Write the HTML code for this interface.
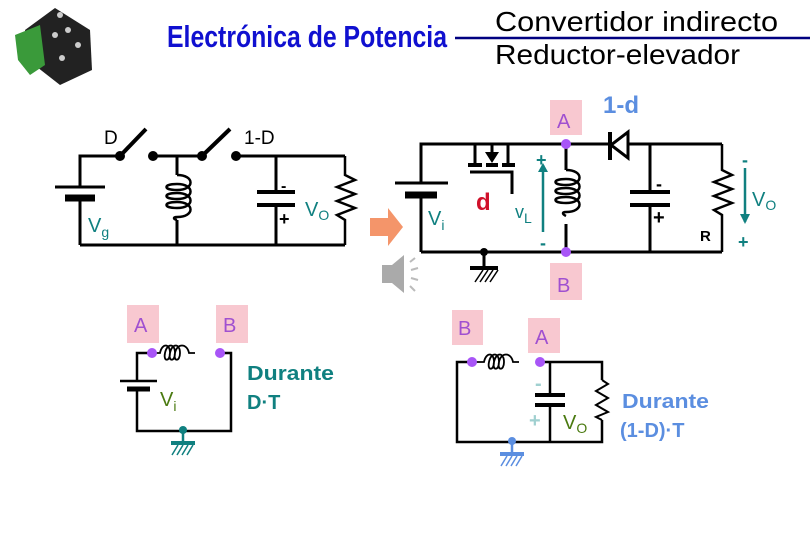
<!DOCTYPE html>
<html><head><meta charset="utf-8"><style>
html,body{margin:0;padding:0;background:#fff;}
svg{display:block;font-family:"Liberation Sans",sans-serif;}
</style></head><body>
<svg width="810" height="540" viewBox="0 0 810 540" xmlns="http://www.w3.org/2000/svg">
<!-- chip image -->
<g>
<polygon points="25,30 55,8 90,30 92,70 60,85 28,60" fill="#222"/>
<polygon points="15,35 40,25 45,65 30,75 18,60" fill="#3a9a3a"/>
<circle cx="60" cy="15" r="3" fill="#ccc"/><circle cx="68" cy="30" r="3" fill="#ccc"/><circle cx="55" cy="35" r="3" fill="#ccc"/><circle cx="78" cy="45" r="3" fill="#ccc"/><circle cx="62" cy="58" r="3" fill="#ccc"/>
</g>
<!-- titles -->
<text x="167" y="47" font-size="31" font-weight="bold" fill="#1010d0" textLength="280" lengthAdjust="spacingAndGlyphs">Electrónica de Potencia</text>
<text x="495" y="31" font-size="28" fill="#000" textLength="283" lengthAdjust="spacingAndGlyphs">Convertidor indirecto</text>
<line x1="455" y1="38" x2="810" y2="38" stroke="#000080" stroke-width="2.5"/>
<text x="495" y="64" font-size="28" fill="#000" textLength="245" lengthAdjust="spacingAndGlyphs">Reductor-elevador</text>

<g stroke="#000" stroke-width="3" fill="none">
<!-- left circuit -->
<polyline points="80,187 80,156 120,156"/>
<line x1="80" y1="198" x2="80" y2="245"/>
<line x1="80" y1="245" x2="345" y2="245"/>
<line x1="55" y1="187" x2="105" y2="187"/>
<line x1="65" y1="198" x2="95" y2="198" stroke-width="7"/>
<line x1="120" y1="156" x2="146" y2="129" stroke-width="4"/>
<line x1="153" y1="156" x2="202" y2="156"/>
<line x1="202" y1="156" x2="230" y2="129" stroke-width="4"/>
<line x1="236" y1="156" x2="345" y2="156"/>
<line x1="177" y1="156" x2="177" y2="175"/>
<line x1="177" y1="220" x2="177" y2="245"/>
<path d="M177,175 c18,0 18,15 0,15 c-14,0 -14,-6 0,-6 c18,0 18,15 0,15 c-14,0 -14,-6 0,-6 c18,0 18,15 0,15 c-14,0 -14,-6 0,-6 c18,0 18,15 0,15 c-4,0 -4,2 0,3" stroke-width="2.5"/>
<line x1="276" y1="156" x2="276" y2="192"/>
<line x1="276" y1="205" x2="276" y2="245"/>
<line x1="257" y1="192" x2="295" y2="192" stroke-width="4"/>
<line x1="257" y1="205" x2="295" y2="205" stroke-width="4"/>
<polyline points="345,156 345,175 355,180 337,187 355,194 337,201 355,208 337,215 345,220 345,245" stroke-width="2.5"/>
</g>
<g fill="#000"><circle cx="120" cy="156" r="5"/><circle cx="153" cy="156" r="5"/><circle cx="202" cy="156" r="5"/><circle cx="236" cy="156" r="5"/></g>
<text x="104" y="144" font-size="19" fill="#000">D</text>
<text x="244" y="144" font-size="19" fill="#000">1-D</text>
<text x="281" y="191" font-size="16" font-weight="bold">-</text>
<text x="279" y="225" font-size="18" font-weight="bold">+</text>
<text x="305" y="216" font-size="20" fill="#108080">V<tspan font-size="14" dy="4">O</tspan></text>
<text x="88" y="232" font-size="20" fill="#108080">V<tspan font-size="14" dy="5">g</tspan></text>

<!-- arrow -->
<polygon points="370,218 388,218 388,208 403,227 388,246 388,236 370,236" fill="#f4956a"/>
<!-- speaker -->
<polygon points="382,265 392,265 404,255 404,293 392,283 382,283" fill="#aaa"/>
<g stroke="#bbb" stroke-width="2"><line x1="410" y1="262" x2="415" y2="258"/><line x1="411" y1="270" x2="418" y2="268"/><line x1="411" y1="278" x2="418" y2="280"/><line x1="410" y1="286" x2="415" y2="291"/></g>

<!-- right circuit -->
<rect x="550" y="100" width="32" height="35" fill="#f8c8d0"/>
<rect x="550" y="263" width="32" height="37" fill="#f8c8d0"/>
<text x="557" y="128" font-size="20" fill="#a050d0">A</text>
<text x="557" y="292" font-size="20" fill="#a050d0">B</text>
<text x="603" y="113" font-size="24" font-weight="bold" fill="#5b8ee0">1-d</text>
<g stroke="#000" stroke-width="3" fill="none">
<polyline points="421,183 421,144 475,144"/>
<line x1="421" y1="195" x2="421" y2="252"/>
<line x1="421" y1="252" x2="722" y2="252"/>
<line x1="395" y1="183" x2="448" y2="183"/>
<line x1="405" y1="195" x2="437" y2="195" stroke-width="7"/>
<line x1="475" y1="144" x2="722" y2="144"/>
<line x1="475" y1="144" x2="475" y2="165"/>
<line x1="508" y1="144" x2="508" y2="165"/>
<line x1="468" y1="165" x2="482" y2="165" stroke-width="4"/>
<line x1="486" y1="165" x2="498" y2="165" stroke-width="4"/>
<line x1="502" y1="165" x2="515" y2="165" stroke-width="4"/>
<line x1="492" y1="144" x2="492" y2="154"/>
<polyline points="470,172 512,172 512,194"/>
<line x1="566" y1="144" x2="566" y2="170"/>
<line x1="566" y1="224" x2="566" y2="252"/>
<path d="M566,170 c18,0 18,15 0,15 c-14,0 -14,-6 0,-6 c18,0 18,15 0,15 c-14,0 -14,-6 0,-6 c18,0 18,15 0,15 c-14,0 -14,-6 0,-6 c18,0 18,15 0,15 c-4,0 -4,2 0,4" stroke-width="2.5"/>
<line x1="610" y1="132" x2="610" y2="160" stroke-width="4"/>
<line x1="650" y1="144" x2="650" y2="192"/>
<line x1="650" y1="205" x2="650" y2="252"/>
<line x1="630" y1="192" x2="670" y2="192" stroke-width="4"/>
<line x1="630" y1="205" x2="670" y2="205" stroke-width="4"/>
<polyline points="722,144 722,170 732,175 714,182 732,189 714,196 732,203 714,210 722,215 722,252" stroke-width="2.5"/>
<line x1="484" y1="252" x2="484" y2="268"/>
<line x1="470" y1="268" x2="498" y2="268" stroke-width="4"/>
</g>
<polygon points="485,152 499,152 492,163" fill="#000"/>
<polygon points="628,132 628,158 611,145" fill="#fff" stroke="#000" stroke-width="3"/>
<g stroke="#000" stroke-width="1.5"><line x1="475" y1="282" x2="483" y2="270"/><line x1="480" y1="282" x2="488" y2="270"/><line x1="485" y1="282" x2="493" y2="270"/><line x1="490" y1="282" x2="498" y2="270"/></g>
<circle cx="484" cy="252" r="4" fill="#000"/>
<circle cx="566" cy="144" r="5" fill="#a855f7"/>
<circle cx="566" cy="252" r="5" fill="#a855f7"/>
<text x="476" y="210" font-size="24" font-weight="bold" fill="#d0102a">d</text>
<text x="428" y="225" font-size="20" fill="#108080">V<tspan font-size="14" dy="5">i</tspan></text>
<text x="515" y="218" font-size="18" fill="#108080">v<tspan font-size="14" dy="5">L</tspan></text>
<g stroke="#108080" stroke-width="2.5" fill="#108080">
<line x1="543" y1="232" x2="543" y2="165"/>
<polygon points="538,172 548,172 543,163" stroke="none"/>
<line x1="745" y1="168" x2="745" y2="222"/>
<polygon points="740,214 750,214 745,224" stroke="none"/>
</g>
<text x="536" y="166" font-size="18" fill="#108080" font-weight="bold">+</text>
<text x="540" y="249" font-size="18" fill="#108080" font-weight="bold">-</text>
<text x="742" y="166" font-size="18" fill="#108080" font-weight="bold">-</text>
<text x="738" y="248" font-size="18" fill="#108080" font-weight="bold">+</text>
<text x="752" y="206" font-size="20" fill="#108080">V<tspan font-size="14" dy="4">O</tspan></text>
<text x="656" y="190" font-size="18" font-weight="bold">-</text>
<text x="653" y="224" font-size="20" font-weight="bold">+</text>
<text x="700" y="241" font-size="15" font-weight="bold">R</text>

<!-- bottom left -->
<rect x="127" y="305" width="32" height="38" fill="#f8c8d0"/>
<rect x="216" y="305" width="32" height="38" fill="#f8c8d0"/>
<text x="134" y="332" font-size="20" fill="#a050d0">A</text>
<text x="223" y="332" font-size="20" fill="#a050d0">B</text>
<g stroke="#000" stroke-width="2.5" fill="none">
<polyline points="152,353 137,353 137,381"/>
<polyline points="137,388 137,431 231,431 231,353 220,353"/>
<line x1="120" y1="381" x2="157" y2="381"/>
<line x1="127" y1="389" x2="150" y2="389" stroke-width="5"/>
<path d="M152,353 h8 c2,-10 10,-10 10,0 c0,9 -7,9 -5,0 c2,-10 10,-10 10,0 c0,9 -7,9 -5,0 c2,-10 10,-10 10,0 c0,9 -7,9 -5,0 c2,-10 12,-10 14,0 h6" stroke-width="1.8"/>
</g>
<circle cx="152" cy="353" r="5" fill="#a855f7"/><circle cx="220" cy="353" r="5" fill="#a855f7"/>
<g stroke="#108080" stroke-width="2.5"><line x1="183" y1="431" x2="183" y2="443"/><line x1="171" y1="443" x2="195" y2="443" stroke-width="4"/></g>
<g stroke="#108080" stroke-width="1.5"><line x1="172" y1="455" x2="178" y2="445"/><line x1="177" y1="455" x2="183" y2="445"/><line x1="182" y1="455" x2="188" y2="445"/><line x1="187" y1="455" x2="193" y2="445"/></g>
<circle cx="183" cy="430" r="4" fill="#108080"/>
<text x="160" y="406" font-size="20" fill="#4a7a10">V<tspan font-size="14" dy="5">i</tspan></text>
<text x="247" y="380" font-size="20" font-weight="bold" fill="#108080" textLength="87" lengthAdjust="spacingAndGlyphs">Durante</text>
<text x="247" y="409" font-size="20" font-weight="bold" fill="#108080">D·T</text>

<!-- bottom right -->
<rect x="452" y="310" width="31" height="35" fill="#f8c8d0"/>
<rect x="528" y="318" width="32" height="35" fill="#f8c8d0"/>
<text x="458" y="335" font-size="20" fill="#a050d0">B</text>
<text x="535" y="344" font-size="20" fill="#a050d0">A</text>
<g stroke="#000" stroke-width="2.5" fill="none">
<polyline points="472,362 457,362 457,442 602,442 602,420"/>
<polyline points="540,362 602,362 602,380"/>
<polyline points="602,380 608,384 596,391 608,398 596,405 608,412 596,417 602,420" stroke-width="2"/>
<line x1="550" y1="362" x2="550" y2="395"/>
<line x1="550" y1="405" x2="550" y2="442"/>
<line x1="535" y1="395" x2="565" y2="395" stroke-width="4"/>
<line x1="535" y1="405" x2="565" y2="405" stroke-width="4"/>
<path d="M472,362 h12 c2,-10 10,-10 10,0 c0,9 -7,9 -5,0 c2,-10 10,-10 10,0 c0,9 -7,9 -5,0 c2,-10 10,-10 10,0 c0,9 -7,9 -5,0 c2,-10 12,-10 14,0 h6" stroke-width="1.8"/>
</g>
<circle cx="472" cy="362" r="5" fill="#a855f7"/><circle cx="540" cy="362" r="5" fill="#a855f7"/>
<g stroke="#5b8ee0" stroke-width="2.5"><line x1="512" y1="442" x2="512" y2="454"/><line x1="500" y1="454" x2="524" y2="454" stroke-width="4"/></g>
<g stroke="#5b8ee0" stroke-width="1.5"><line x1="501" y1="466" x2="507" y2="456"/><line x1="506" y1="466" x2="512" y2="456"/><line x1="511" y1="466" x2="517" y2="456"/><line x1="516" y1="466" x2="522" y2="456"/></g>
<circle cx="512" cy="441" r="4" fill="#5b8ee0"/>
<text x="535" y="390" font-size="20" font-weight="bold" fill="#a0d0d0">-</text>
<text x="529" y="427" font-size="20" font-weight="bold" fill="#a0d0d0">+</text>
<text x="563" y="429" font-size="20" fill="#4a7a10">V<tspan font-size="14" dy="4">O</tspan></text>
<text x="622" y="408" font-size="20" font-weight="bold" fill="#5b8ee0" textLength="87" lengthAdjust="spacingAndGlyphs">Durante</text>
<text x="620" y="437" font-size="20" font-weight="bold" fill="#5b8ee0">(1-D)·T</text>
</svg>
</body></html>
